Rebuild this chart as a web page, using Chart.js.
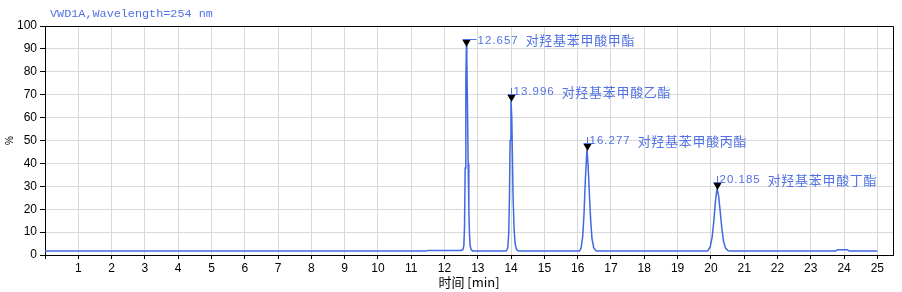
<!DOCTYPE html>
<html>
<head>
<meta charset="utf-8">
<script src="https://cdn.jsdelivr.net/npm/chart.js@4.4.0/dist/chart.umd.min.js"></script>
<style>
html,body{margin:0;padding:0;background:#fff;}
</style>
</head>
<body>
<canvas id="myChart" width="902" height="292"></canvas>
<script>
// chromatogram trace, time in min / signal in %
const traceTime=[0,11.45,11.5,12.5,12.55,12.58,12.6,12.62,12.64,12.657,12.67,12.69,12.71,12.73,12.75,12.77,12.8,12.85,
                 13.85,13.9,13.93,13.95,13.97,13.996,14.02,14.04,14.06,14.09,14.12,14.16,14.22,
                 16.05,16.1,16.15,16.19,16.23,16.277,16.31,16.35,16.39,16.43,16.48,16.55,16.6,
                 19.9,19.98,20.04,20.09,20.14,20.185,20.23,20.28,20.33,20.38,20.44,20.52,20.6,
                 23.75,23.8,24.1,24.15,25];
const traceSignal=[1.7,1.7,2.0,2.0,2.3,4,12,38,75,91.5,86,64,40,20,9,4,2.4,1.7,
                   1.7,3,10,25,50,67.4,60,42,25,11,5,2.5,1.7,
                   1.7,3,8,18,33,46,40,27,15,7,3.2,1.8,1.7,
                   1.7,3.5,8,15,24,29,26,19,11.5,6,3,1.8,1.7,
                   1.7,2.3,2.3,1.7,1.7];
const peakTimes=[12.657,13.996,16.277,20.185];
const peakHeights=[91.5,67.4,46,29];
const peakNames=["对羟基苯甲酸甲酯","对羟基苯甲酸乙酯","对羟基苯甲酸丙酯","对羟基苯甲酸丁酯"];
const xTickValues=[0,1,2,3,4,5,6,7,8,9,10,11,12,13,14,15,16,17,18,19,20,21,22,23,24,25];
const signalName="VWD1A,Wavelength=254 nm";
const xTitle="时间 [min]";
const yTitle="%";

const lineColor='#4169e1';
const textColor='#5071e3';

var points=[];
for(var i=0;i<traceTime.length;i++)
  points.push({x:traceTime[i],y:traceSignal[i]});

const headerPlugin={
  id:'header',
  afterDraw(chart){
    const ctx=chart.ctx;
    const a=chart.chartArea;
    ctx.save();
    // frame top and right
    ctx.strokeStyle='#000';
    ctx.lineWidth=1;
    ctx.beginPath();
    ctx.moveTo(a.left,a.top+0.5);
    ctx.lineTo(a.right+0.5,a.top+0.5);
    ctx.lineTo(a.right+0.5,a.bottom);
    ctx.stroke();
    ctx.fillStyle=textColor;
    ctx.font="11.8px 'Liberation Mono', monospace";
    ctx.textBaseline='middle';
    ctx.fillText(signalName,a.left+5,14);
    ctx.restore();
  }
};

// label offsets from triangle top (dx from apex, dy)
const labelShift=[[11,0.5],[2,-3],[2,-3],[2,-3]];

const peakPlugin={
  id:'peaks',
  afterDatasetsDraw(chart){
    const ctx=chart.ctx;
    const xs=chart.scales.x, ys=chart.scales.y;
    ctx.save();
    for(var i=0;i<peakTimes.length;i++)
    {
      const px=Math.round(xs.getPixelForValue(peakTimes[i]))+0.5;
      const py=ys.getPixelForValue(peakHeights[i]);
      const top=Math.round(py-5.5);
      const tip=top+7;
      ctx.fillStyle='#000';
      ctx.beginPath();
      ctx.moveTo(px-4,top);
      ctx.lineTo(px+4,top);
      ctx.lineTo(px,tip);
      ctx.closePath();
      ctx.fill();
      const lx=px+labelShift[i][0];
      const ly=top+labelShift[i][1];
      ctx.strokeStyle=textColor;
      ctx.lineWidth=1;
      ctx.beginPath();
      if(labelShift[i][0]>5)
      {
        ctx.moveTo(px-4,top-0.5);
        ctx.lineTo(lx-1,top-0.5);
      }
      else
      {
        ctx.moveTo(px-4,top-0.5);
        ctx.lineTo(px+6,top-0.5);
        ctx.moveTo(px,top);
        ctx.lineTo(px,ly-4);
      }
      ctx.stroke();
      ctx.fillStyle=textColor;
      ctx.textBaseline='middle';
      ctx.font="11.5px 'Liberation Sans', Arial, sans-serif";
      ctx.letterSpacing='1px';
      const num=peakTimes[i].toFixed(3);
      ctx.fillText(num,lx,ly);
      const w=ctx.measureText(num).width;
      ctx.font="13px 'Noto Sans CJK SC', sans-serif";
      ctx.letterSpacing='0.7px';
      ctx.fillText(peakNames[i],lx+w+7,ly);
      ctx.letterSpacing='0px';
    }
    ctx.restore();
  }
};

const ctx=document.getElementById('myChart').getContext('2d');
const myChart=new Chart(ctx,{
  type:'line',
  data:{
    datasets:[{
      data:points,
      borderColor:lineColor,
      borderWidth:1.5,
      pointRadius:0,
      tension:0,
      fill:false
    }]
  },
  options:{
    responsive:false,
    animation:false,
    devicePixelRatio:1,
    layout:{padding:{top:26,right:9,left:0,bottom:0}},
    plugins:{legend:{display:false},tooltip:{enabled:false},title:{display:false}},
    scales:{
      x:{
        type:'linear',
        min:0,
        max:25.47,
        afterBuildTicks(scale){
          scale.ticks=xTickValues.map(v=>({value:v}));
        },
        afterFit(scale){scale.height=37;},
        ticks:{
          autoSkip:false,
          maxRotation:0,
          padding:2,
          color:'#000',
          font:{family:"'Liberation Sans', Arial, sans-serif",size:12},
          callback:(v)=>v===0?'':v
        },
        grid:{color:'#d9d9d9',tickColor:'#000',tickLength:4,lineWidth:1},
        border:{color:'#000',width:1},
        title:{display:true,text:xTitle,color:'#000',padding:{top:0,bottom:2},
               font:{family:"'Noto Sans CJK SC', sans-serif",size:13}}
      },
      y:{
        min:0,
        max:100,
        afterFit(scale){scale.width=45;},
        ticks:{
          stepSize:10,
          padding:3,
          color:'#000',
          font:{family:"'Liberation Sans', Arial, sans-serif",size:12}
        },
        grid:{color:'#d9d9d9',tickColor:'#000',tickLength:5,lineWidth:1},
        border:{color:'#000',width:1},
        title:{display:true,text:yTitle,color:'#000',padding:{top:4,bottom:0},
               font:{family:"'Liberation Sans', sans-serif",size:10}}
      }
    }
  },
  plugins:[headerPlugin,peakPlugin]
});
</script>
</body>
</html>
